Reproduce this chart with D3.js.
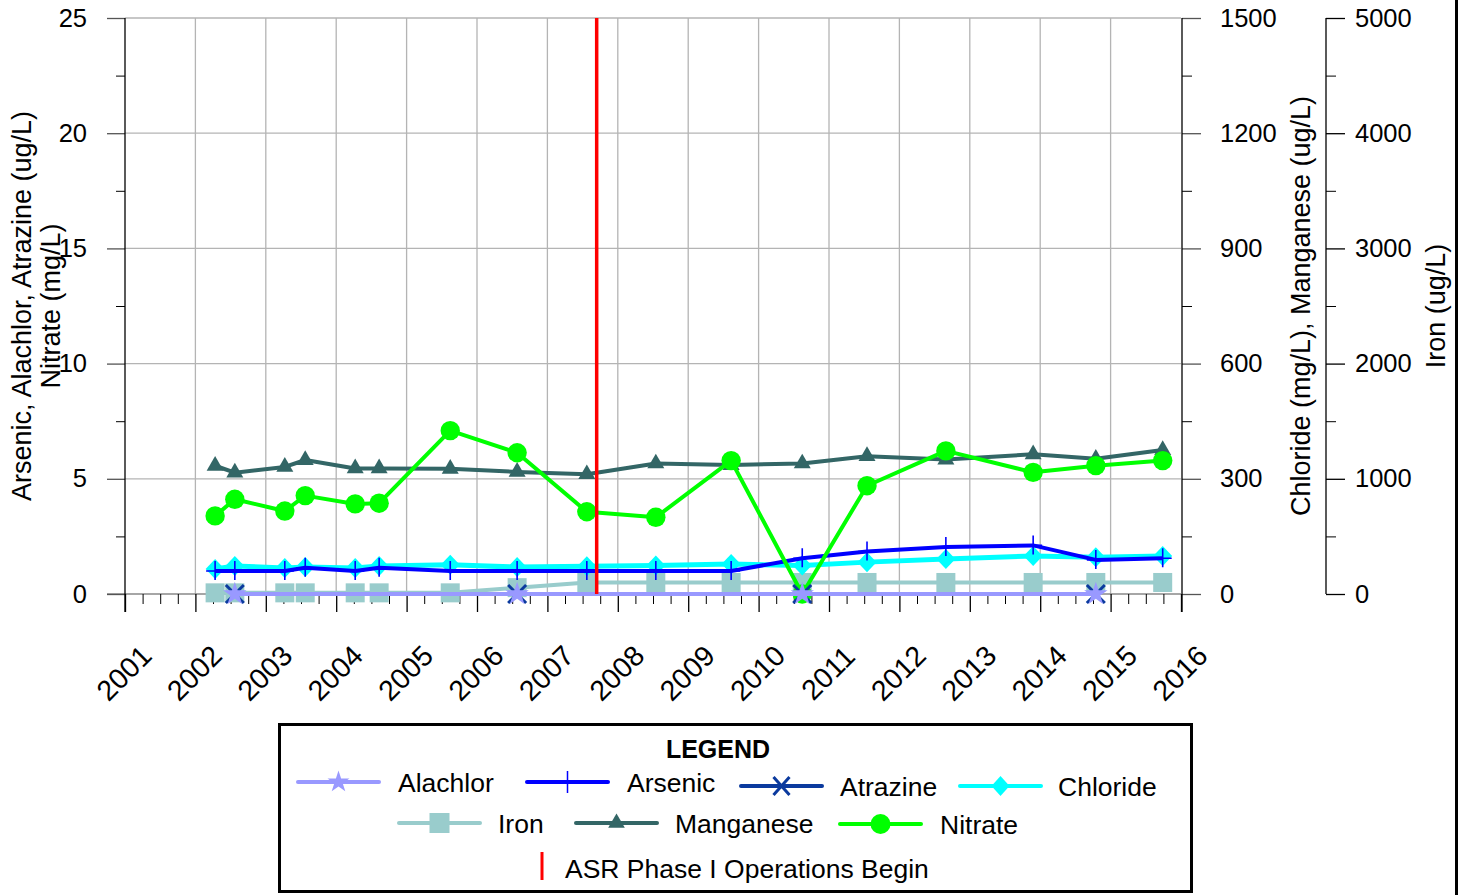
<!DOCTYPE html>
<html><head><meta charset="utf-8">
<script src="https://cdn.jsdelivr.net/npm/d3@7"></script>
<style>html,body{margin:0;padding:0;background:#fff;} svg{display:block;} text{font-family:"Liberation Sans",Arial,sans-serif;fill:#000;}</style>
</head><body>
<svg id="chart" width="1466" height="895"></svg>
<script>
// ---- data ----
const years = [2001,2002,2003,2004,2005,2006,2007,2008,2009,2010,2011,2012,2013,2014,2015,2016];
const leftTicks = [0,5,10,15,20,25];
const chlorideTicks = [0,300,600,900,1200,1500];
const ironTicks = [0,1000,2000,3000,4000,5000];
const sampleDates = [2002.28,2002.56,2003.27,2003.56,2004.27,2004.61,2005.62,2006.57,2007.56,2008.54,2009.61,2010.62,2011.54,2012.66,2013.90,2014.79,2015.74];
const arsenic   = [1.0,1.0,1.0,1.14,1.0,1.14,1.0,1.0,1.0,1.0,1.0,1.55,1.84,2.04,2.11,1.48,1.55];
const nitrate   = [3.39,4.11,3.6,4.27,3.91,3.94,7.09,6.13,3.57,3.33,5.79,0,4.7,6.21,5.28,5.57,5.79];
const chloride  = [65,73,68,70,68,73,76,70,72,74,78,74,83,91,99,96,99];
const manganese = [334,316,331,349,327,327,326,318,312,340,336,340,359,350,364,352,375];
const iron      = [10,10,10,10,10,10,10,55,100,100,100,100,100,100,100,100,100];
const pestDates = [2002.56,2006.57,2010.62,2014.79];
const alachlor  = [0,0,0,0];
const atrazine  = [0,0,0,0];
const asrStart  = 2007.70;
const legendRow1 = ["Alachlor","Arsenic","Atrazine","Chloride"];
const legendRow2 = ["Iron","Manganese","Nitrate"];

// ---- setup ----
const svg = d3.select("#chart");
const x  = d3.scaleLinear().domain([2001,2016]).range([125,1181]);
const yL = d3.scaleLinear().domain([0,25]).range([594,18]);
const yC = d3.scaleLinear().domain([0,1500]).range([594,18]);
const yI = d3.scaleLinear().domain([0,5000]).range([594,18]);
const C = {alachlor:"#9999ff", arsenic:"#0000ff", atrazine:"#0b3a9e", chloride:"#00ffff", iron:"#99cccc", manganese:"#336666", nitrate:"#00ff00", red:"#ff0000"};
const gridCol = "#b4b4b4";
const fmt = d3.format("d");

// gridlines
svg.append("g").selectAll("line").data(leftTicks.filter(d=>d>0)).join("line")
  .attr("x1",x(2001)).attr("x2",x(2016)).attr("y1",d=>yL(d)).attr("y2",d=>yL(d))
  .attr("stroke",gridCol).attr("stroke-width",1.3);
svg.append("g").selectAll("line").data(years.slice(1,-1)).join("line")
  .attr("x1",d=>x(d)).attr("x2",d=>x(d)).attr("y1",yL(25)).attr("y2",yL(0))
  .attr("stroke",gridCol).attr("stroke-width",1.3);

// x axis baseline (grey)
svg.append("line").attr("x1",107).attr("x2",x(2016)).attr("y1",yL(0)).attr("y2",yL(0)).attr("stroke","#888").attr("stroke-width",1.5);

const fontTick = "25.5px";
// left axis
const gL = svg.append("g").attr("transform",`translate(${x(2001)},0)`)
  .call(d3.axisLeft(yL).tickValues(leftTicks).tickSize(18).tickPadding(20).tickFormat(fmt));
gL.select(".domain").remove();
gL.selectAll(".tick line").attr("stroke","#555").attr("stroke-width",1.3);
gL.selectAll(".tick text").style("font-size",fontTick).attr("fill","#000");
const gL2 = svg.append("g").attr("transform",`translate(${x(2001)},0)`)
  .call(d3.axisLeft(yL).tickValues([2.5,7.5,12.5,17.5,22.5]).tickSize(9).tickFormat(""));
gL2.select(".domain").remove();
gL2.selectAll(".tick line").attr("stroke","#000").attr("stroke-width",1);
svg.append("line").attr("x1",x(2001)).attr("x2",x(2001)).attr("y1",18).attr("y2",612).attr("stroke","#000").attr("stroke-width",1.3);

// chloride axis
const gC = svg.append("g").attr("transform",`translate(${x(2016)+1},0)`)
  .call(d3.axisRight(yC).tickValues(chlorideTicks).tickSize(19).tickPadding(19).tickFormat(fmt));
gC.select(".domain").remove();
gC.selectAll(".tick line").attr("stroke","#555").attr("stroke-width",1.3);
gC.selectAll(".tick text").style("font-size",fontTick).attr("fill","#000");
const gC2 = svg.append("g").attr("transform",`translate(${x(2016)+1},0)`)
  .call(d3.axisRight(yC).tickValues([150,450,750,1050,1350]).tickSize(10).tickFormat(""));
gC2.select(".domain").remove();
gC2.selectAll(".tick line").attr("stroke","#000");
svg.append("line").attr("x1",x(2016)+1).attr("x2",x(2016)+1).attr("y1",18).attr("y2",612).attr("stroke","#000").attr("stroke-width",1.3);

// iron axis
const ironX = 1326;
const gI = svg.append("g").attr("transform",`translate(${ironX},0)`)
  .call(d3.axisRight(yI).tickValues(ironTicks).tickSize(19).tickPadding(10).tickFormat(fmt));
gI.select(".domain").remove();
gI.selectAll(".tick line").attr("stroke","#000").attr("stroke-width",1.3);
gI.selectAll(".tick text").style("font-size",fontTick).attr("fill","#000");
const gI2 = svg.append("g").attr("transform",`translate(${ironX},0)`)
  .call(d3.axisRight(yI).tickValues([500,1500,2500,3500,4500]).tickSize(10).tickFormat(""));
gI2.select(".domain").remove();
gI2.selectAll(".tick line").attr("stroke","#000");
svg.append("line").attr("x1",ironX).attr("x2",ironX).attr("y1",18).attr("y2",594).attr("stroke","#000").attr("stroke-width",1.3);

// bottom axis ticks
const minor = d3.range(2001,2016,0.25).filter(d=>d%1!==0);
const gB2 = svg.append("g").attr("transform",`translate(0,${yL(0)})`)
  .call(d3.axisBottom(x).tickValues(minor).tickSize(10).tickFormat(""));
gB2.select(".domain").remove();
gB2.selectAll(".tick line").attr("stroke","#000");
const gB = svg.append("g").attr("transform",`translate(0,${yL(0)})`)
  .call(d3.axisBottom(x).tickValues(years).tickSize(18).tickFormat(""));
gB.select(".domain").remove();
gB.selectAll(".tick line").attr("stroke","#000").attr("stroke-width",1.3);
svg.append("g").selectAll("text").data(years).join("text")
  .attr("transform",d=>`translate(${x(d)+6},680) rotate(-45)`)
  .attr("text-anchor","middle").style("font-size","28.5px").text(d=>fmt(d));

// titles
function vtitle(tx,ty,t){ svg.append("text").attr("transform",`translate(${tx},${ty}) rotate(-90)`).attr("text-anchor","middle").style("font-size","27px").text(t); }
vtitle(31,306,"Arsenic, Alachlor, Atrazine (ug/L)");
vtitle(60,306,"Nitrate (mg/L)");
vtitle(1310,306,"Chloride (mg/L), Manganese (ug/L)");
vtitle(1445,306,"Iron (ug/L)");

// ---- series ----
const idx = d3.range(sampleDates.length);
const pidx = d3.range(pestDates.length);
function drawLine(indices, xs, ys, scale, color, w){
  svg.append("path").datum(indices)
    .attr("d", d3.line().x(i=>x(xs[i])).y(i=>scale(ys[i])))
    .attr("fill","none").attr("stroke",color).attr("stroke-width",w).attr("stroke-linejoin","round");
}
function diamondPath(hw,hh){ return `M0,${-hh}L${hw},0L0,${hh}L${-hw},0Z`; }

// iron
drawLine(idx, sampleDates, iron, yI, C.iron, 4);
svg.append("g").selectAll("rect").data(idx).join("rect")
  .attr("x",i=>x(sampleDates[i])-9.5).attr("y",i=>yI(iron[i])-9.5).attr("width",19).attr("height",19).attr("fill",C.iron);
// manganese
drawLine(idx, sampleDates, manganese, yC, C.manganese, 4);
svg.append("g").selectAll("path").data(idx).join("path")
  .attr("transform",i=>`translate(${x(sampleDates[i])},${yC(manganese[i])})`)
  .attr("d",d3.symbol(d3.symbolTriangle,125)).attr("fill",C.manganese);
// chloride
drawLine(idx, sampleDates, chloride, yC, C.chloride, 5);
svg.append("g").selectAll("path").data(idx).join("path")
  .attr("transform",i=>`translate(${x(sampleDates[i])},${yC(chloride[i])})`)
  .attr("d",diamondPath(9.5,10)).attr("fill",C.chloride);
// arsenic
drawLine(idx, sampleDates, arsenic, yL, C.arsenic, 4);
svg.append("g").selectAll("path").data(idx).join("path")
  .attr("transform",i=>`translate(${x(sampleDates[i])},${yL(arsenic[i])})`)
  .attr("d","M0,-10V9M-9,0H9").attr("stroke",C.arsenic).attr("stroke-width",1.6).attr("fill","none");
// nitrate
drawLine(idx, sampleDates, nitrate, yL, C.nitrate, 4);
svg.append("g").selectAll("circle").data(idx).join("circle")
  .attr("cx",i=>x(sampleDates[i])).attr("cy",i=>yL(nitrate[i])).attr("r",9.7).attr("fill",C.nitrate);
// atrazine
drawLine(pidx, pestDates, atrazine, yL, C.atrazine, 4);
svg.append("g").selectAll("path").data(pidx).join("path")
  .attr("transform",i=>`translate(${x(pestDates[i])},${yL(atrazine[i])})`)
  .attr("d","M-9,-9L9,9M-9,9L9,-9").attr("stroke",C.atrazine).attr("stroke-width",3).attr("fill","none");
// alachlor
drawLine(pidx, pestDates, alachlor, yL, C.alachlor, 4);
svg.append("g").selectAll("path").data(pidx).join("path")
  .attr("transform",i=>`translate(${x(pestDates[i])},${yL(alachlor[i])})`)
  .attr("d",d3.symbol(d3.symbolStar,170)).attr("fill",C.alachlor);

// ASR line
svg.append("line").attr("x1",x(asrStart)).attr("x2",x(asrStart)).attr("y1",yL(25)).attr("y2",yL(0))
  .attr("stroke",C.red).attr("stroke-width",3.5);

// right border
svg.append("rect").attr("x",1455).attr("y",0).attr("width",3).attr("height",895).attr("fill","#000");

// ---- legend ----
const lg = svg.append("g");
lg.append("rect").attr("x",279.5).attr("y",724.5).attr("width",912).attr("height",167)
  .attr("fill","#fff").attr("stroke","#000").attr("stroke-width",3);
lg.append("text").attr("x",718).attr("y",758).attr("text-anchor","middle").style("font-size","25px").style("font-weight","bold").text("LEGEND");
const items = [
  {name:legendRow1[0], x0:298, y:782, tx:398, ty:792, col:C.alachlor, mk:"star"},
  {name:legendRow1[1], x0:527, y:782, tx:627, ty:792, col:C.arsenic, mk:"plus"},
  {name:legendRow1[2], x0:741, y:786, tx:840, ty:796, col:C.atrazine, mk:"x"},
  {name:legendRow1[3], x0:960, y:786, tx:1058, ty:796, col:C.chloride, mk:"diamond"},
  {name:legendRow2[0], x0:399, y:823, tx:498, ty:833, col:C.iron, mk:"square"},
  {name:legendRow2[1], x0:576, y:823, tx:675, ty:833, col:C.manganese, mk:"tri"},
  {name:legendRow2[2], x0:840, y:824, tx:940, ty:834, col:C.nitrate, mk:"circle"}
];
items.forEach(it=>{
  const g = lg.append("g");
  g.append("line").attr("x1",it.x0).attr("x2",it.x0+81).attr("y1",it.y).attr("y2",it.y)
    .attr("stroke",it.col).attr("stroke-width",4).attr("stroke-linecap","round");
  const mx = it.x0+40.5;
  const m = g.append("g").attr("transform",`translate(${mx},${it.y})`);
  if(it.mk==="star") m.append("path").attr("d",d3.symbol(d3.symbolStar,150)).attr("fill",it.col);
  if(it.mk==="plus") m.append("path").attr("d","M0,-11V11").attr("stroke",it.col).attr("stroke-width",1.5);
  if(it.mk==="x") m.append("path").attr("d","M-8,-9L8,9M-8,9L8,-9").attr("stroke",it.col).attr("stroke-width",3);
  if(it.mk==="diamond") m.append("path").attr("d",diamondPath(9,10)).attr("fill",it.col);
  if(it.mk==="square") m.append("rect").attr("x",-10).attr("y",-10).attr("width",20).attr("height",20).attr("fill",it.col);
  if(it.mk==="tri") m.append("path").attr("d",d3.symbol(d3.symbolTriangle,120)).attr("fill",it.col);
  if(it.mk==="circle") m.append("circle").attr("r",10).attr("fill",it.col);
  g.append("text").attr("x",it.tx).attr("y",it.ty).style("font-size","26.5px").text(it.name);
});
lg.append("line").attr("x1",542).attr("x2",542).attr("y1",852).attr("y2",880).attr("stroke",C.red).attr("stroke-width",3);
lg.append("text").attr("x",565).attr("y",878).style("font-size","26.5px").text("ASR Phase I Operations Begin");
</script>
</body></html>
